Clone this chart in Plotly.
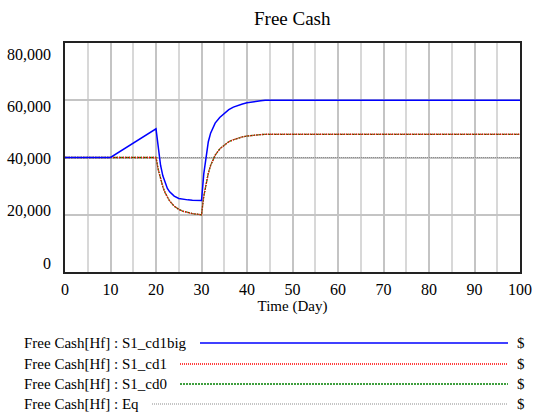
import plotly.graph_objects as go

# ---------------- data ----------------
time_cd1big = [0, 10, 20, 20.5, 21, 21.5, 22, 22.5, 23, 24, 25, 26, 27, 28, 29, 30,
               30.5, 31, 31.5, 32, 33, 34, 35, 36, 37, 38, 39, 40, 41, 42, 43, 44, 100]
cash_cd1big = [40000, 40000, 50000, 42500, 37300, 33600, 31000, 29200, 28000, 26500,
               25700, 25400, 25200, 25100, 25050, 25000,
               34300, 41000, 45500, 48500, 52000, 54000, 55500, 56700, 57600, 58200,
               58700, 59100, 59400, 59650, 59850, 60000, 60000]

time_cd = [0, 10, 20, 20.5, 21, 21.5, 22, 22.5, 23, 24, 25, 26, 27, 28, 29, 30,
           30.5, 31, 31.5, 32, 33, 34, 35, 36, 37, 38, 39, 40, 41, 42, 43, 44, 100]
cash_cd1 = [40000, 40000, 40000, 35700, 32400, 29800, 27700, 26100, 24800, 23000,
            21900, 21200, 20700, 20400, 20200, 20000,
            26500, 31000, 34500, 37200, 40800, 43000, 44400, 45500, 46200, 46800,
            47200, 47500, 47750, 47900, 48000, 48100, 48100]
cash_cd0 = [40000, 40000, 40000, 35700, 32400, 29800, 27700, 26100, 24800, 23000,
            21900, 21200, 20700, 20400, 20200, 20000,
            26500, 31000, 34500, 37200, 40800, 43000, 44400, 45500, 46200, 46800,
            47200, 47500, 47750, 47900, 48000, 48100, 48100]

time_eq = [0, 100]
cash_eq = [40000, 40000]

series_labels = ["Free Cash[Hf] : S1_cd1big", "Free Cash[Hf] : S1_cd1",
                 "Free Cash[Hf] : S1_cd0", "Free Cash[Hf] : Eq"]
series_unit = "$"
title_text = "Free Cash"
x_title = "Time (Day)"
y_ticks = [0, 20000, 40000, 60000, 80000]
y_tick_labels = ["0", "20,000", "40,000", "60,000", "80,000"]
x_ticks = [0, 10, 20, 30, 40, 50, 60, 70, 80, 90, 100]

# ---------------- layout helpers ----------------
W, H = 533, 419
L, R, T, B = 65, 520, 43, 272
FONT = "Liberation Serif, Times New Roman, Times, serif"


def px(x):
    return (x - L) / (R - L)


def py(y):
    return (B - y) / (B - T)


colors = ["#0000ff", "#ff0000", "#008000", "#8c8c8c"]
dashes = ["solid", "1px,1px", "2px,1px", "1px,1px"]
widths = [1.5, 1.4, 1.3, 1.2]

fig = go.Figure()
# draw order: Eq, cd0, cd1, cd1big
fig.add_trace(go.Scatter(x=time_eq, y=cash_eq, mode="lines",
                         line=dict(color=colors[3], dash=dashes[3], width=widths[3])))
fig.add_trace(go.Scatter(x=time_cd, y=cash_cd0, mode="lines",
                         line=dict(color=colors[2], dash=dashes[2], width=widths[2])))
fig.add_trace(go.Scatter(x=time_cd, y=cash_cd1, mode="lines",
                         line=dict(color=colors[1], dash=dashes[1], width=widths[1])))
fig.add_trace(go.Scatter(x=time_cd1big, y=cash_cd1big, mode="lines",
                         line=dict(color=colors[0], dash=dashes[0], width=widths[0])))

fig.update_layout(
    width=W, height=H,
    margin=dict(l=L, r=W - R, t=T, b=H - B, pad=0, autoexpand=False),
    plot_bgcolor="white", paper_bgcolor="white",
    showlegend=False,
    font=dict(family=FONT, color="black", size=16),
)

fig.update_xaxes(
    range=[0, 100], tickvals=x_ticks, ticktext=[str(v) for v in x_ticks],
    showgrid=True, gridcolor="#c4c4c4", gridwidth=1.5,
    minor=dict(dtick=5, showgrid=True, gridcolor="#d8d8d8", gridwidth=1.5),
    showline=True, linecolor="#222222", linewidth=2, mirror=True,
    zeroline=False, ticks="", ticklabelstandoff=2, automargin=False,
    tickfont=dict(family=FONT, size=16),
    title=dict(text=x_title, font=dict(family=FONT, size=15), standoff=3),
)
fig.update_yaxes(
    range=[0, 80000], tickvals=y_ticks, showticklabels=False,
    showgrid=True, gridcolor="#c4c4c4", gridwidth=1.5,
    showline=True, linecolor="#222222", linewidth=2, mirror=True,
    zeroline=False, ticks="", automargin=False,
)

# y tick labels (Vensim places them spread slightly inside the axis extent)
label_shift = [9, 4, -1, -6, -11]
for v, txt, sh in zip(y_ticks, y_tick_labels, label_shift):
    fig.add_annotation(text=txt, xref="paper", yref="y", x=px(53), y=v, yshift=sh,
                       showarrow=False, xanchor="right", yanchor="middle",
                       font=dict(family=FONT, size=16))

# title
fig.add_annotation(text=title_text, xref="paper", yref="paper",
                   x=px(292), y=py(18), showarrow=False,
                   font=dict(family=FONT, size=19), xanchor="center", yanchor="middle")

# custom legend
row_y = [343, 364, 384, 404]
line_x0 = [200, 180, 180, 152]
line_x1 = 508
for i, lab in enumerate(series_labels):
    fig.add_annotation(text=lab, xref="paper", yref="paper", x=px(22), y=py(row_y[i]),
                       showarrow=False, xanchor="left", yanchor="middle",
                       font=dict(family=FONT, size=15))
    fig.add_shape(type="line", xref="paper", yref="paper",
                  x0=px(line_x0[i]), x1=px(line_x1), y0=py(row_y[i]), y1=py(row_y[i]),
                  line=dict(color=colors[i], dash=dashes[i], width=widths[i]))
    fig.add_annotation(text=series_unit, xref="paper", yref="paper", x=px(521), y=py(row_y[i]),
                       showarrow=False, xanchor="center", yanchor="middle",
                       font=dict(family=FONT, size=15))

fig.write_html("out.html", config={"displayModeBar": False},
               post_script="document.body.style.margin='0';document.body.style.overflow='hidden';")
